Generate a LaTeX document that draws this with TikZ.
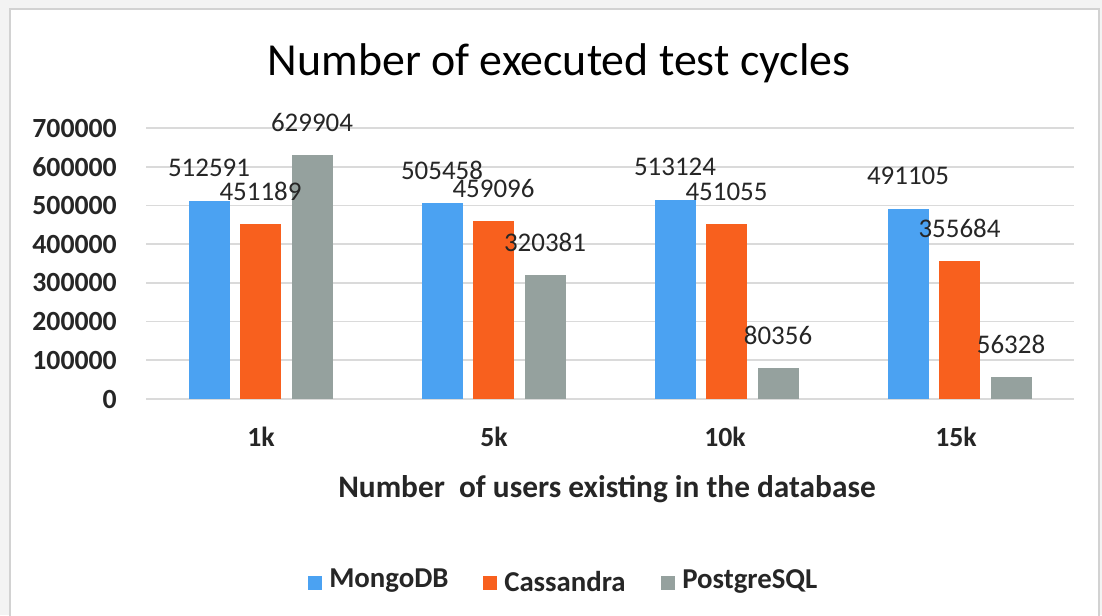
\documentclass[tikz,border=0pt]{standalone}
\usepackage{fontspec}
\setmainfont{Carlito}
\definecolor{cblue}{HTML}{4BA2F2}
\definecolor{corange}{HTML}{F8601E}
\definecolor{cgray}{HTML}{95A19E}
\definecolor{gridc}{HTML}{DADADA}
\definecolor{txt}{HTML}{262626}
\definecolor{framec}{HTML}{D2D2D2}
\definecolor{pagebg}{HTML}{F3F3F3}
\tikzset{
  gridline/.style={draw=gridc, line width=1.2pt},
  dlab/.style={inner sep=0pt, text=txt, font=\fontsize{20.2}{24}\selectfont},
  ytick/.style={inner sep=0pt, anchor=east, text=txt, font=\bfseries\fontsize{20.8}{24}\selectfont},
  xlab/.style={inner sep=0pt, text=txt, font=\bfseries\fontsize{20.8}{24}\selectfont},
  axtitle/.style={inner sep=0pt, text=txt, font=\bfseries\fontsize{23.5}{28}\selectfont},
  legtext/.style={inner sep=0pt, anchor=west, text=txt, font=\bfseries\fontsize{21.6}{26}\selectfont},
  ttl/.style={inner sep=0pt, text=black, font=\fontsize{34.4}{40}\selectfont},
  legsq/.style={minimum size=10pt, inner sep=0pt},
}
\begin{document}
\begin{tikzpicture}[x=0.75pt,y=-0.75pt]
\useasboundingbox (0,0) rectangle (1102,615);
\clip (0,0) rectangle (1102,615);
\fill[pagebg] (0,0) rectangle (1102,615);
\filldraw[fill=white, draw=framec, line width=1.5pt] (9.5,8.5) rectangle (1099,640);
% gridlines and y ticks
\foreach \v/\t in {0/0,1/100000,2/200000,3/300000,4/400000,5/500000,6/600000,7/700000}{
  \draw[gridline] (146,{399-38.714*\v}) -- (1074,{399-38.714*\v});
  \node[ytick] (y\v) at (117,{399-38.714*\v}) {\t};
}
% bars
\foreach \xc/\va/\vb/\vc in {260.5/512.591/451.189/629.904, 493.5/505.458/459.096/320.381, 726.5/513.124/451.055/80.356, 959.5/491.105/355.684/56.328}{
  \fill[cblue]   ({\xc-72},399) rectangle ({\xc-31},{399-\va*0.38714});
  \fill[corange] ({\xc-20.5},399) rectangle ({\xc+20.5},{399-\vb*0.38714});
  \fill[cgray]   ({\xc+31},399) rectangle ({\xc+72},{399-\vc*0.38714});
}
% data labels
\foreach \xc/\va/\la/\vb/\lb/\vc/\lc [count=\i] in {260.5/512.591/512591/451.189/451189/629.904/629904, 493.5/505.458/505458/459.096/459096/320.381/320381, 726.5/513.124/513124/451.055/451055/80.356/80356, 959.5/491.105/491105/355.684/355684/56.328/56328}{
  \node[dlab] (la\i) at ({\xc-51.5},{399-\va*0.38714-33}) {\la};
  \node[dlab] (lb\i) at ({\xc},{399-\vb*0.38714-33}) {\lb};
  \node[dlab] (lc\i) at ({\xc+51.5},{399-\vc*0.38714-33}) {\lc};
}
% x labels
\foreach \cat/\xc [count=\i] in {1k/261,5k/494,10k/725,15k/956}{
  \node[xlab] (x\i) at (\xc,437) {\cat};
}
\node[axtitle] (axt) at (607,489) {Number\ \ of users existing in the database};
\node[ttl] (title) at (559,63) {Number of executed test cycles};
% legend
\node[legsq, fill=cblue] (s1) at (315,583) {};
\node[legtext] (t1) at (329,581) {MongoDB};
\node[legsq, fill=corange] (s2) at (490,583) {};
\node[legtext] (t2) at (504,581) {Cassandra};
\node[legsq, fill=cgray] (s3) at (668,583) {};
\node[legtext] (t3) at (682,581) {PostgreSQL};
\end{tikzpicture}
\end{document}
